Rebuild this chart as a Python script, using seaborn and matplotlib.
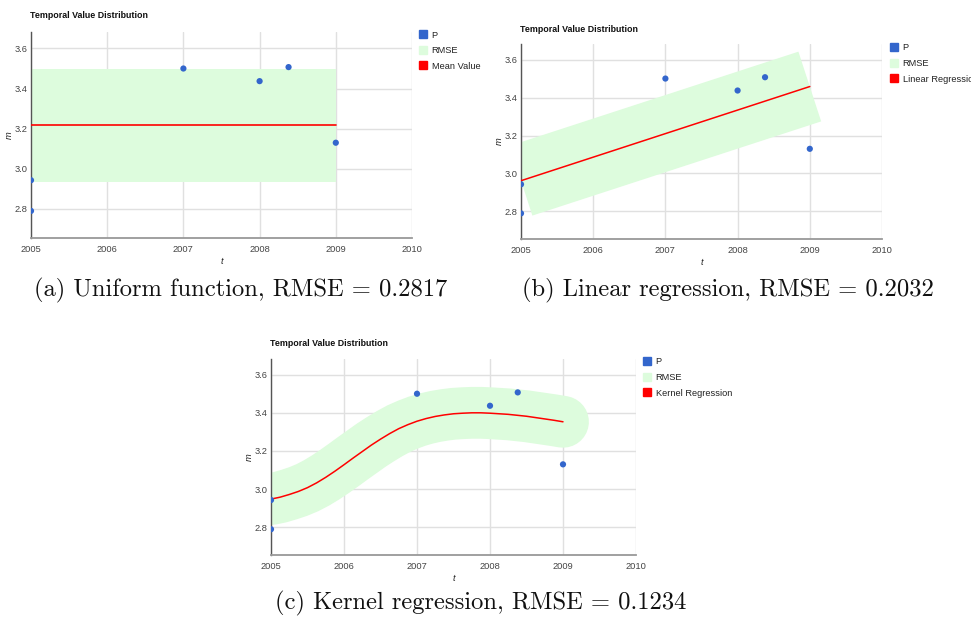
import numpy as np
import pandas as pd
import matplotlib
matplotlib.use("Agg")
import matplotlib.pyplot as plt
from matplotlib.lines import Line2D
import seaborn as sns

# ---------------- data ----------------
p_t = [2005, 2005, 2007, 2008, 2008.38, 2009]
p_m = [2.943, 2.79, 3.50, 3.437, 3.507, 3.13]

mean_value = 3.218
mean_t = [2005, 2009]

lr_t = [2005, 2009]
lr_m = [2.962, 3.458]

kr_t = [2005, 2005.125, 2005.25, 2005.375, 2005.5, 2005.625, 2005.75, 2005.875,
        2006, 2006.125, 2006.25, 2006.375, 2006.5, 2006.625, 2006.75, 2006.875,
        2007, 2007.125, 2007.25, 2007.375, 2007.5, 2007.625, 2007.75, 2007.875,
        2008, 2008.125, 2008.25, 2008.375, 2008.5, 2008.625, 2008.75, 2008.875,
        2009]
kr_m = [2.948, 2.958, 2.972, 2.988, 3.008, 3.033, 3.062, 3.094,
        3.128, 3.163, 3.197, 3.231, 3.262, 3.291, 3.317, 3.338,
        3.356, 3.370, 3.381, 3.389, 3.395, 3.398, 3.400, 3.400,
        3.398, 3.395, 3.392, 3.387, 3.382, 3.375, 3.368, 3.361,
        3.353]

rmse = [0.2817, 0.2032, 0.1234]
fit_labels = ["Mean Value", "Linear Regression", "Kernel Regression"]
captions = ["(a) Uniform function, RMSE = 0.2817",
            "(b) Linear regression, RMSE = 0.2032",
            "(c) Kernel regression, RMSE = 0.1234"]
x_ticks = [2005, 2006, 2007, 2008, 2009, 2010]
y_ticks = [2.8, 3.0, 3.2, 3.4, 3.6]
title = "Temporal Value Distribution"

# ---------------- style ----------------
sns.set_style("white")
plt.rcParams["font.family"] = ["Liberation Sans", "DejaVu Sans"]

W, H, DPI = 971, 617, 100
BLUE = "#3366cc"
RED = "#ff0000"
BAND = "#ddfcdd"
GRID = "#e0e0e0"

fig = plt.figure(figsize=(W / DPI, H / DPI), dpi=DPI)


def fx(x):
    return x / W


def fy(y):
    return 1 - y / H


def make_axes(l, t, r, b):
    return fig.add_axes([fx(l), fy(b), fx(r) - fx(l), fy(t) - fy(b)])


# pixel boxes of the three panels: (left, top, right, bottom)
boxes = [(31, 32, 412, 238), (521, 44, 882, 239), (271, 359, 636, 555)]
title_pos = [(30, 15), (520, 29), (270, 343)]
legend_pos = [(419, 30.5), (890, 43.5), (643, 357.5)]
caption_pos = [(241, 290), (728, 290), (481, 603)]

pts = pd.DataFrame({"t": p_t, "m": p_m})

for i, box in enumerate(boxes):
    ax = make_axes(*box)
    ax.set_xlim(2005, 2010)
    ax.set_ylim(2.655, 3.682)
    ax.set_xticks(x_ticks)
    ax.set_yticks(y_ticks)
    ax.set_yticklabels([f"{v:.1f}" for v in y_ticks])
    ax.set_axisbelow(True)
    ax.grid(True, color=GRID, linewidth=1.0)
    ax.tick_params(axis="both", length=0, labelsize=6.7, labelcolor="#444444")
    ax.tick_params(axis="x", pad=5)
    ax.tick_params(axis="y", pad=2.5)
    for s in ["top", "right"]:
        ax.spines[s].set_visible(False)
    ax.spines["left"].set_color("#555555")
    ax.spines["left"].set_linewidth(1.0)
    ax.spines["bottom"].set_color("#999999")
    ax.spines["bottom"].set_linewidth(1.3)

    py = abs(ax.transData.transform((2005, 1.0))[1] - ax.transData.transform((2005, 0.0))[1])
    r = rmse[i]

    if i == 0:
        ax.fill_between(mean_t, mean_value - r, mean_value + r, color=BAND,
                        linewidth=0, zorder=1)
        sns.lineplot(x=mean_t, y=[mean_value, mean_value], ax=ax, color=RED,
                     linewidth=1.2, zorder=3)
    elif i == 1:
        p0 = ax.transData.transform((lr_t[0], lr_m[0]))
        p1 = ax.transData.transform((lr_t[1], lr_m[1]))
        ang = np.arctan2(p1[1] - p0[1], p1[0] - p0[0])
        width_px = 2 * r * py * np.cos(ang)
        ax.plot(lr_t, lr_m, color=BAND, linewidth=width_px * 72 / DPI,
                solid_capstyle="butt", zorder=1)
        sns.lineplot(x=lr_t, y=lr_m, ax=ax, color=RED, linewidth=1.1, zorder=3)
    else:
        width_px = 2 * r * 1.1 * py
        ax.plot(kr_t, kr_m, color=BAND, linewidth=width_px * 72 / DPI,
                solid_capstyle="round", solid_joinstyle="round", zorder=1)
        sns.lineplot(x=kr_t, y=kr_m, ax=ax, color=RED, linewidth=1.1, zorder=3)

    sns.scatterplot(data=pts, x="t", y="m", ax=ax, color=BLUE, s=20,
                    edgecolor="none", zorder=4)
    ax.set_xlabel("t", fontsize=6.7, style="italic", color="#222222", labelpad=2)
    ax.set_ylabel("m", fontsize=6.7, style="italic", color="#222222", labelpad=0.5)

    tx, ty = title_pos[i]
    fig.text(fx(tx), fy(ty), title, fontsize=6.4, fontweight="bold",
             color="#111111", ha="left", va="center")

    handles = [
        Line2D([], [], marker="s", linestyle="none", markersize=6.3,
               markerfacecolor=BLUE, markeredgecolor=BLUE),
        Line2D([], [], marker="s", linestyle="none", markersize=6.3,
               markerfacecolor=BAND, markeredgecolor=BAND),
        Line2D([], [], marker="s", linestyle="none", markersize=6.3,
               markerfacecolor=RED, markeredgecolor=RED),
    ]
    lx, ly = legend_pos[i]
    leg = ax.legend(handles, ["P", "RMSE", fit_labels[i]], loc="upper left",
                    bbox_to_anchor=(fx(lx), fy(ly)), bbox_transform=fig.transFigure,
                    frameon=False, fontsize=6.7, borderpad=0, borderaxespad=0,
                    handlelength=0.9, handletextpad=0.45, labelspacing=0.7)
    for t in leg.get_texts():
        t.set_color("#222222")

    cx, cy = caption_pos[i]
    fig.text(fx(cx), fy(cy), captions[i], fontsize=17.7, family="cmr10",
             color="#111111", ha="center", va="center")

fig.savefig("out.png", dpi=DPI)
